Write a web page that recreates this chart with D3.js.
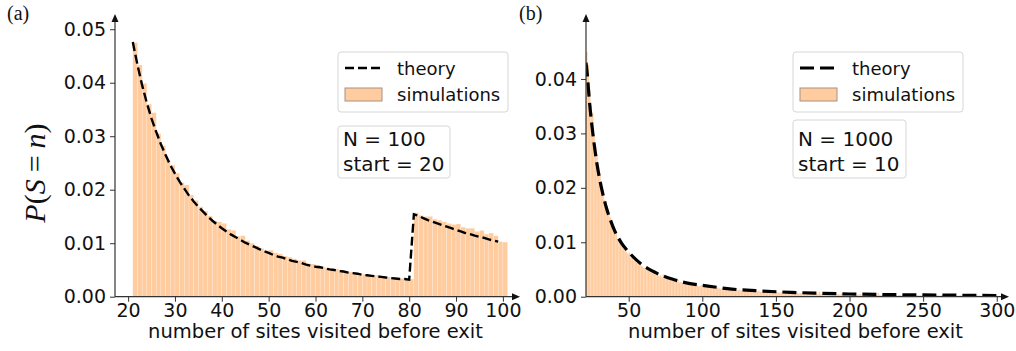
<!DOCTYPE html>
<html>
<head>
<meta charset="utf-8">
<script src="https://cdn.jsdelivr.net/npm/d3@7"></script>
<style>
  body { margin: 0; background: #fff; }
  svg text { font-family: "DejaVu Sans", sans-serif; fill: #111; }
</style>
</head>
<body>
<svg id="chart" width="1016" height="351"></svg>
<script>
// ---- data ----

// (a) N = 100, start = 20 : histogram bins [n, n+1), n = 21..100
let leftBins = d3.range(21, 101);
let leftSim = [
  .0475, .0433, .0399, .0360, .0344, .0305, .0282, .0256, .0246, .0231,
  .0213, .0209, .0190, .0180, .0168, .0160, .0151, .0142, .0140, .0137,
  .0126, .0124, .0113, .0114, .0105, .0100, .0095, .0090, .0086, .0087,
  .0082, .0080, .0076, .0074, .0071, .0068, .0068, .0062, .0061, .0059,
  .0056, .0054, .0053, .0052, .0050, .0048, .0046, .0045, .0043, .0042,
  .0041, .0040, .0041, .0038, .0037, .0036, .0035, .0034, .0033, .0033,
  .0157, .0152, .0150, .0150, .0145, .0143, .0140, .0137, .0135, .0136,
  .0130, .0128, .0128, .0122, .0124, .0117, .0119, .0114, .0103, .0102
];
// theory curve, n = 21..99
let leftTheoryN = d3.range(21, 100);
let leftTheory = [
  .0476, .0433, .0395, .0362, .0333, .0308, .0285, .0265, .0246, .0230,
  .0215, .0202, .0189, .0178, .0168, .0159, .0150, .0142, .0135, .0128,
  .0122, .0116, .0111, .0106, .0101, .0097, .0093, .0089, .0085, .0082,
  .0078, .0075, .0073, .0070, .0067, .0065, .0063, .0060, .0058, .0056,
  .0055, .0053, .0051, .0050, .0048, .0047, .0045, .0044, .0043, .0041,
  .0040, .0039, .0038, .0037, .0036, .0035, .0034, .0033, .0033, .0032,
  .0154, .0151, .0147, .0143, .0140, .0137, .0134, .0131, .0128, .0125,
  .0122, .0119, .0117, .0114, .0112, .0110, .0107, .0105, .0103
];
let leftXTicks = [20, 30, 40, 50, 60, 70, 80, 90, 100];
let leftYTicks = [0, 0.01, 0.02, 0.03, 0.04, 0.05];

// (b) N = 1000, start = 10 : bins [n, n+1), n = 21..300
let rightBins = d3.range(21, 301);
let rightSim = [
  .0450, .0426, .0380, .0352, .0338, .0298, .0275, .0262, .0240, .0226,
  .0205, .0196, .0178, .0173, .0166, .0150, .0146, .0137, .0131, .0120,
  .0118, .0106, .0104, .0099, .0096, .0088, .0093, .0082, .0079, .0081,
  .0072, .0074, .0066, .0070, .0062, .0065, .0058, .0057, .0055, .0053,
  .0050, .0052, .0047, .0049, .0044, .0043, .0045, .0040, .0041, .0038,
  .0039, .0036, .0041, .0034, .0035, .0033, .0036, .0031, .0030, .0033,
  .0029, .0028, .0031, .0026, .0027, .0025, .0029, .0024, .0025, .0023,
  .0024, .0021, .0022, .0024, .0020, .0021, .0019, .0020, .0022, .0018,
  .0019, .0017, .0020, .0018, .0016, .0017, .0019, .0015, .0016, .0017,
  .0015, .0014, .0016, .0014, .0013, .0015, .0014, .0013, .0012, .0014,
  .0012, .0013, .0011, .0012, .0013, .0011, .0010, .0012, .0011, .0010,
  .0012, .0010, .0009, .0011, .0010, .0009, .0010, .0011, .0009, .0008,
  .0010, .0009, .0008, .0009, .0011, .0008, .0009, .0008, .0007, .0009,
  .0008, .0007, .0008, .0009, .0007, .0008, .0007, .0006, .0008, .0007,
  .0007, .0006, .0007, .0008, .0006, .0007, .0006, .0007, .0006, .0005,
  .0006, .0007, .0005, .0006, .0006, .0005, .0006, .0005, .0009, .0005,
  .0005, .0006, .0005, .0004, .0005, .0006, .0005, .0004, .0005, .0005,
  .0004, .0005, .0004, .0006, .0004, .0005, .0004, .0004, .0005, .0004,
  .0004, .0005, .0004, .0003, .0004, .0004, .0005, .0003, .0004, .0004,
  .0003, .0004, .0003, .0004, .0003, .0004, .0003, .0003, .0007, .0003,
  .0003, .0004, .0003, .0003, .0004, .0003, .0003, .0002, .0003, .0004,
  .0003, .0002, .0003, .0003, .0002, .0003, .0004, .0002, .0003, .0003,
  .0003, .0002, .0003, .0005, .0002, .0003, .0002, .0003, .0002, .0003,
  .0002, .0002, .0003, .0002, .0002, .0003, .0002, .0002, .0003, .0002,
  .0002, .0003, .0002, .0002, .0002, .0003, .0002, .0002, .0002, .0003,
  .0002, .0002, .0002, .0002, .0003, .0002, .0002, .0002, .0002, .0002,
  .0002, .0002, .0003, .0002, .0002, .0004, .0002, .0002, .0002, .0002,
  .0002, .0002, .0001, .0002, .0002, .0002, .0002, .0002, .0001, .0002
];
let rightTheoryN = [21, 22, 23, 24, 25, 26, 28, 30, 32, 35, 38, 40, 45, 50, 55, 60,
  70, 80, 90, 100, 120, 140, 160, 180, 200, 230, 260, 300];
let rightTheory = [.0430, .0405, .0370, .0340, .0315, .0292, .0252, .0220, .0194, .0162,
  .0138, .0124, .0099, .0082, .0068, .0057, .0042, .0032, .0025, .0021,
  .0014, .00105, .0008, .00063, .0005, .00038, .0003, .00022];
let rightXTicks = [50, 100, 150, 200, 250, 300];
let rightYTicks = [0, 0.01, 0.02, 0.03, 0.04];

// ---- drawing ----
let $svg = d3.select('#chart');
let barFill = '#ffcc9f';

let panels = [
  {
    id: 'a', tag: '(a)', tagX: 7,
    left: 115, right: 516, bottom: 296.7, top: 18,
    xDomain: [17.2, 102.8], yDomain: [0, 0.0521],
    bins: leftBins, sim: leftSim, thN: leftTheoryN, th: leftTheory, curve: d3.curveLinear,
    xTicks: leftXTicks, yTicks: leftYTicks,
    lineW: 2.4, dash: '9,4', barStroke: 0.5,
    legend: { x: 338, y: 52, w: 170 }, info: { x: 338, y: 126, w: 112, lines: ['N = 100', 'start = 20'] }
  },
  {
    id: 'b', tag: '(b)', tagX: 519,
    left: 586, right: 1005, bottom: 296.7, top: 18,
    xDomain: [21, 305.6], yDomain: [0, 0.0512],
    bins: rightBins, sim: rightSim, thN: rightTheoryN, th: rightTheory, curve: d3.curveMonotoneX,
    xTicks: rightXTicks, yTicks: rightYTicks,
    lineW: 3.2, dash: '14,6', barStroke: 0,
    legend: { x: 793, y: 52, w: 170 }, info: { x: 793, y: 120, w: 113, lines: ['N = 1000', 'start = 10'] }
  }
];

panels.forEach(drawPanel);

function drawPanel(p) {
  let x = d3.scaleLinear().domain(p.xDomain).range([p.left, p.right]);
  let y = d3.scaleLinear().domain(p.yDomain).range([p.bottom, p.top]);

  let $g = $svg.append('g').attr('class', 'panel-' + p.id);

  $svg.append('clipPath').attr('id', 'clip-' + p.id)
    .append('rect')
    .attr('x', p.left).attr('y', p.top - 10)
    .attr('width', p.right - p.left).attr('height', p.bottom - p.top + 10);

  // bars
  $g.append('g').attr('clip-path', `url(#clip-${p.id})`)
    .selectAll('rect')
    .data(p.bins)
    .enter()
    .append('rect')
    .attr('x', d => x(d))
    .attr('width', d => x(d + 1) - x(d))
    .attr('y', (d, i) => y(p.sim[i]))
    .attr('height', (d, i) => y(0) - y(p.sim[i]))
    .style('fill', barFill)
    .style('stroke', '#fff')
    .style('stroke-opacity', 0.35)
    .style('stroke-width', p.barStroke);

  // theory
  let line = d3.line()
    .x((d, i) => x(p.thN[i]))
    .y(d => y(d))
    .curve(p.curve);

  $g.append('path')
    .attr('clip-path', `url(#clip-${p.id})`)
    .datum(p.th)
    .attr('d', line)
    .style('fill', 'none')
    .style('stroke', '#000')
    .style('stroke-width', p.lineW)
    .style('stroke-dasharray', p.dash);

  // axes
  let xAxis = d3.axisBottom(x).tickValues(p.xTicks).tickSize(5).tickPadding(2)
    .tickFormat(d3.format('d'));
  let yAxis = d3.axisLeft(y).tickValues(p.yTicks).tickSize(5).tickPadding(4)
    .tickFormat(d3.format('.2f'));

  let $x = $g.append('g').attr('transform', `translate(0,${p.bottom})`).call(xAxis);
  let $y = $g.append('g').attr('transform', `translate(${p.left},0)`).call(yAxis);
  [$x, $y].forEach($a => {
    $a.select('.domain').remove();
    $a.selectAll('.tick line').style('stroke', '#333').style('stroke-width', 1);
    $a.selectAll('.tick text')
      .style('font-family', '"DejaVu Sans", sans-serif')
      .style('font-size', '19px')
      .style('fill', '#111');
  });

  // spines with arrow heads
  $g.append('line')
    .attr('x1', p.left).attr('x2', p.left)
    .attr('y1', p.bottom).attr('y2', p.top)
    .style('stroke', '#333').style('stroke-width', 1.2);
  $g.append('line')
    .attr('x1', p.left).attr('x2', p.right)
    .attr('y1', p.bottom).attr('y2', p.bottom)
    .style('stroke', '#333').style('stroke-width', 1.2);
  $g.append('path')
    .attr('d', `M${p.left - 3.5},${p.top + 4} L${p.left},${p.top - 4} L${p.left + 3.5},${p.top + 4} Z`)
    .style('fill', '#111');
  $g.append('path')
    .attr('d', `M${p.right - 4},${p.bottom - 3.5} L${p.right + 4},${p.bottom} L${p.right - 4},${p.bottom + 3.5} Z`)
    .style('fill', '#111');

  // x label
  $g.append('text')
    .attr('x', (p.left + p.right) / 2)
    .attr('y', 338)
    .attr('text-anchor', 'middle')
    .style('font-size', '19.5px')
    .text('number of sites visited before exit');

  // panel tag
  $g.append('text')
    .attr('x', p.tagX)
    .attr('y', 20)
    .style('font-family', '"Liberation Serif", "Times New Roman", serif')
    .style('font-size', '20px')
    .text(p.tag);

  // legend
  let L = p.legend;
  $g.append('rect')
    .attr('x', L.x).attr('y', L.y).attr('width', L.w).attr('height', 60)
    .attr('rx', 3)
    .style('fill', '#fff').style('fill-opacity', 0.85)
    .style('stroke', '#d6d6d6').style('stroke-width', 1);
  $g.append('line')
    .attr('x1', L.x + 7).attr('x2', L.x + 44)
    .attr('y1', L.y + 16).attr('y2', L.y + 16)
    .style('stroke', '#000').style('stroke-width', p.lineW)
    .style('stroke-dasharray', p.dash);
  $g.append('text')
    .attr('x', L.x + 59).attr('y', L.y + 23)
    .style('font-size', '18px')
    .text('theory');
  $g.append('rect')
    .attr('x', L.x + 7).attr('y', L.y + 36).attr('width', 37).attr('height', 13)
    .style('fill', barFill).style('stroke', '#a89080').style('stroke-width', 1);
  $g.append('text')
    .attr('x', L.x + 59).attr('y', L.y + 49)
    .style('font-size', '18px')
    .text('simulations');

  // info box
  let I = p.info;
  $g.append('rect')
    .attr('x', I.x).attr('y', I.y).attr('width', I.w).attr('height', 178 - I.y)
    .attr('rx', 3)
    .style('fill', '#fff').style('fill-opacity', 0.85)
    .style('stroke', '#d6d6d6').style('stroke-width', 1);
  I.lines.forEach((t, i) => {
    $g.append('text')
      .attr('x', I.x + 5)
      .attr('y', 146 + i * 25)
      .style('font-size', '20px')
      .text(t);
  });
}

// y label, only on the left panel
let $ylab = $svg.append('text')
  .attr('transform', 'translate(45,173) rotate(-90)')
  .attr('text-anchor', 'middle')
  .style('font-family', '"Liberation Serif", "Times New Roman", serif')
  .style('font-size', '30px');
$ylab.append('tspan').style('font-style', 'italic').text('P');
$ylab.append('tspan').text('(');
$ylab.append('tspan').style('font-style', 'italic').text('S');
$ylab.append('tspan').attr('dx', 7).text('=');
$ylab.append('tspan').attr('dx', 7).style('font-style', 'italic').text('n');
$ylab.append('tspan').text(')');
</script>
</body>
</html>
